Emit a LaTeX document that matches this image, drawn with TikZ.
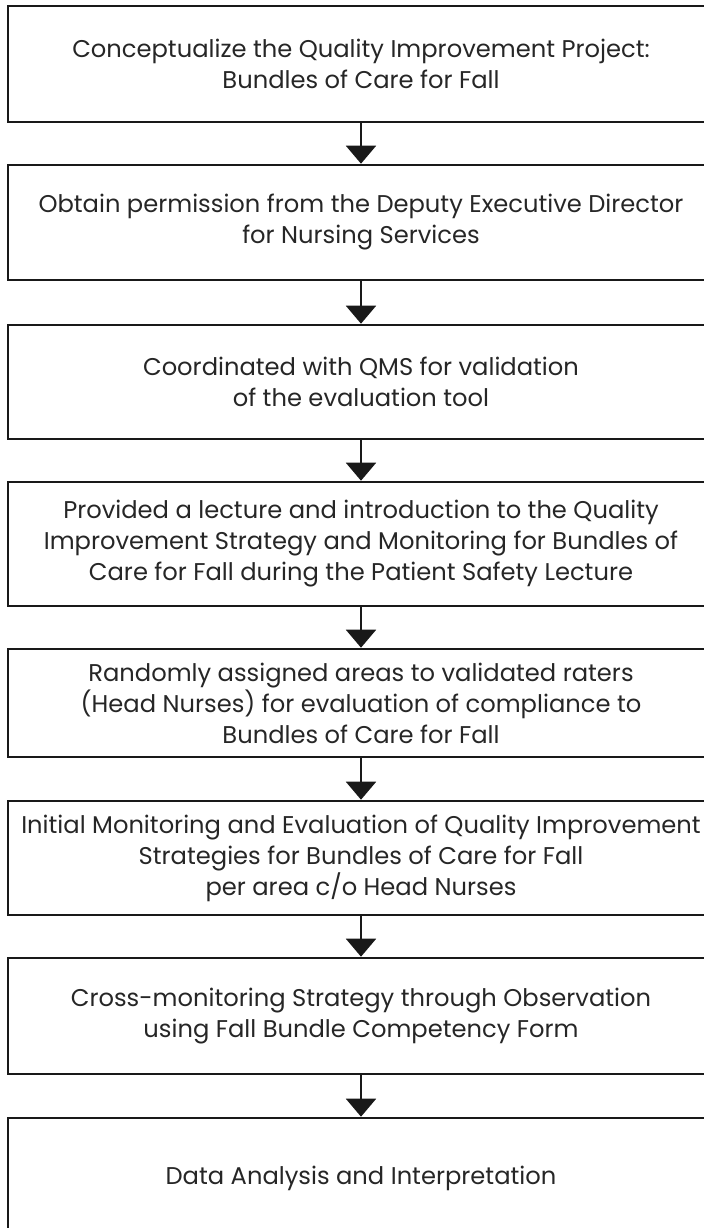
\documentclass[tikz,border=0pt]{standalone}
\usepackage{fontspec}
\setmainfont{Poppins}
\usepackage{tikz}
\usetikzlibrary{positioning, arrows.meta}

\begin{document}
\begin{tikzpicture}[x=0.5pt, y=-0.5pt,
    stepbox/.style={rectangle, draw=black!90, line width=1.3pt, minimum width=353pt,
        align=center, text=black!85, font=\fontsize{12.1}{15.5}\selectfont},
    flow/.style={draw=black!90, line width=1pt, -{Triangle[width=15pt, length=9pt]}}]
            \useasboundingbox (0, 0) rectangle (704, 1228);

            % the steps of the project, top to bottom
            \node[stepbox, minimum height=58pt] (s1) at (361, 64) {Conceptualize the Quality Improvement Project:\\ Bundles of Care for Fall};
            \node[stepbox, minimum height=57.5pt] (s2) at (361, 222.5) {Obtain permission from the Deputy Executive Director\\ for Nursing Services};
            \node[stepbox, minimum height=57pt] (s3) at (361, 382) {Coordinated with QMS for validation\\ of the evaluation tool};
            \node[stepbox, minimum height=62pt] (s4) at (361, 544) {Provided a lecture and introduction to the Quality\\ Improvement Strategy and Monitoring for Bundles of\\ Care for Fall during the Patient Safety Lecture};
            \node[stepbox, minimum height=54pt] (s5) at (361, 703) {Randomly assigned areas to validated raters\\ (Head Nurses) for evaluation of compliance to\\ Bundles of Care for Fall};
            \node[stepbox, minimum height=57pt] (s6) at (361, 858) {Initial Monitoring and Evaluation of Quality Improvement\\ Strategies for Bundles of Care for Fall\\ per area c/o Head Nurses};
            \node[stepbox, minimum height=58pt] (s7) at (361, 1016) {Cross-monitoring Strategy through Observation\\ using Fall Bundle Competency Form};
            \node[stepbox, minimum height=60pt] (s8) at (361, 1178) {Data Analysis and Interpretation};

            \draw[flow] (s1) -- (s2);
            \draw[flow] (s2) -- (s3);
            \draw[flow] (s3) -- (s4);
            \draw[flow] (s4) -- (s5);
            \draw[flow] (s5) -- (s6);
            \draw[flow] (s6) -- (s7);
            \draw[flow] (s7) -- (s8);
        \end{tikzpicture}
\end{document}
